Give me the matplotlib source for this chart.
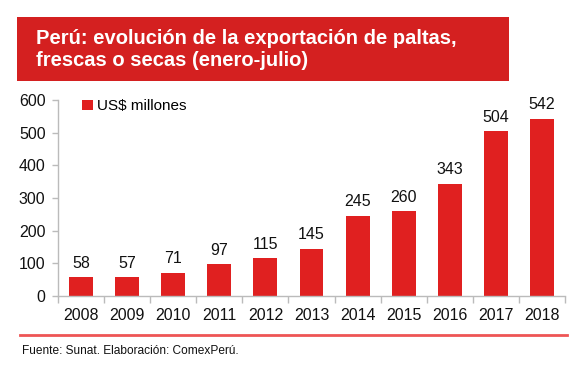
import matplotlib
matplotlib.use("Agg")
import matplotlib.pyplot as plt
from matplotlib.patches import Rectangle
from matplotlib.lines import Line2D

years = ["2008", "2009", "2010", "2011", "2012", "2013", "2014", "2015", "2016", "2017", "2018"]
values = [58, 57, 71, 97, 115, 145, 245, 260, 343, 504, 542]
yticks = [0, 100, 200, 300, 400, 500, 600]
title = "Perú: evolución de la exportación de paltas,\nfrescas o secas (enero-julio)"
legend_label = "US$ millones"
source = "Fuente: Sunat. Elaboración: ComexPerú."

plt.rcParams['font.family'] = ['Liberation Sans', 'DejaVu Sans']
W, H = 581, 369
fig = plt.figure(figsize=(W / 100, H / 100), dpi=100)
fig.patch.set_facecolor("white")

red = "#E02020"
# Title box
fig.patches.append(Rectangle((17 / W, 1 - 81 / H), (509 - 17) / W, (81 - 17) / H,
                             transform=fig.transFigure, facecolor="#D42020", edgecolor="none"))
fig.text(36 / W, 1 - 50 / H, title, color="white", fontsize=14.5, fontweight="bold",
         va="center", ha="left", linespacing=1.2)

ax = fig.add_axes([58 / W, 1 - 296 / H, (565 - 58) / W, (296 - 100) / H])
x = list(range(len(years)))
bars = ax.bar(x, values, width=0.52, color=red, label=legend_label)
for xi, v in zip(x, values):
    ax.text(xi, v + 20, str(v), ha="center", va="bottom", fontsize=11.5, color="#111111")

ax.set_xlim(-0.5, len(years) - 0.5)
ax.set_ylim(0, 600)
ax.set_yticks(yticks)
ax.set_yticklabels([str(t) for t in yticks], fontsize=11.5, color="#111111")
ax.set_xticks(x)
ax.set_xticklabels(years, fontsize=11.5, color="#111111")
ax.tick_params(axis="x", length=0, pad=9)
ax.set_xticks([i - 0.5 for i in range(len(years) + 1)], minor=True)
ax.tick_params(axis="x", which="minor", length=5, color="#BBBBBB", width=1)
ax.tick_params(axis="y", length=4, color="#BBBBBB", width=1, pad=5, direction="out")
for s in ["top", "right"]:
    ax.spines[s].set_visible(False)
for s in ["left", "bottom"]:
    ax.spines[s].set_color("#BBBBBB")
    ax.spines[s].set_linewidth(1)

leg = ax.legend(loc="upper left", bbox_to_anchor=(0.035, 1.035), frameon=False, fontsize=11,
                handlelength=0.7, handleheight=0.7, handletextpad=0.3, borderaxespad=0)

fig.lines.append(Line2D([20 / W, 567 / W], [1 - 335 / H, 1 - 335 / H], transform=fig.transFigure,
                        color="#EE5555", linewidth=2))
fig.text(22 / W, 1 - 351 / H, source, fontsize=8.6, color="#111111", va="center", ha="left")

fig.savefig("out.png", dpi=100, facecolor="white")
